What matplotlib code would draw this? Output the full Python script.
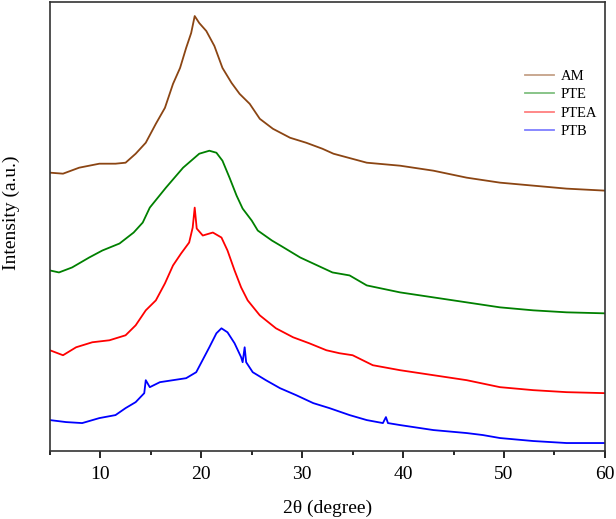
import numpy as np
import matplotlib.pyplot as plt

plt.rcParams['font.family'] = ['Liberation Serif', 'DejaVu Serif']

# 2theta (degree) and offset intensities (a.u.)
am_x = [5, 6.3, 7.9, 9.9, 11.5, 12.5, 13.5, 14.5, 15.5, 16.4, 17.2, 17.9, 18.5, 19.0,
        19.35, 19.8, 20.5, 21.3, 22.1, 23.0, 23.8, 24.8, 25.8, 27.1, 28.8, 30.4, 32.0,
        33.1, 36.4, 39.7, 43.0, 46.3, 49.6, 52.9, 56.2, 60]
am_y = [279, 278, 284, 288, 288, 289, 298, 309, 328, 344, 368, 384, 404, 419,
        436, 429, 421, 406, 384, 369, 358, 348, 333, 323, 314, 309, 303,
        298, 289, 286, 281, 274, 269, 266, 263, 261]

pte_x = [5, 5.9, 7.2, 8.9, 10.2, 11.9, 13.3, 14.2, 14.9, 16.5, 18.2, 19.8, 20.8, 21.5,
         22.1, 22.8, 23.5, 24.1, 25.0, 25.6, 27.0, 28.0, 29.8, 33.0, 34.7, 36.4, 39.7,
         43.0, 46.3, 49.6, 52.9, 56.2, 60]
pte_y = [181, 179, 184, 194, 201, 208, 219, 229, 244, 264, 284, 298, 301, 299,
         291, 274, 256, 243, 231, 221, 211, 205, 194, 179, 176, 166, 159,
         154, 149, 144, 141, 139, 138]

ptea_x = [5, 6.3, 7.6, 9.2, 10.9, 12.5, 13.5, 14.5, 15.5, 16.4, 17.2, 18.0, 18.8, 19.15,
          19.35, 19.55, 20.15, 21.15, 22.0, 22.6, 23.3, 23.95, 24.6, 25.8, 27.4, 29.1,
          30.7, 32.4, 33.7, 35.0, 37.0, 39.7, 43.0, 46.3, 49.6, 52.9, 56.2, 60]
ptea_y = [101, 96, 104, 109, 111, 116, 126, 141, 151, 168, 186, 198, 209, 224,
          244, 223, 216, 219, 214, 201, 181, 164, 151, 136, 123, 114,
          108, 101, 98, 96, 86, 81, 76, 71, 64, 61, 59, 58]

ptb_x = [5, 6.6, 8.2, 9.9, 11.5, 12.5, 13.5, 14.35, 14.5, 14.9, 15.9, 17.2, 18.5, 19.5,
         20.8, 21.5, 22.0, 22.6, 23.3, 23.95, 24.1, 24.3, 24.45, 25.1, 26.4, 27.8, 29.4,
         31.1, 32.7, 34.7, 36.4, 38.0, 38.3, 38.5, 39.7, 43.0, 46.3, 47.9, 49.6, 52.9,
         56.2, 60]
ptb_y = [31, 29, 28, 33, 36, 43, 49, 58, 71, 64, 69, 71, 73, 79,
         104, 118, 123, 119, 108, 94, 89, 104, 89, 79, 71, 63, 56,
         48, 43, 36, 31, 28, 34, 28, 26, 21, 18, 16, 13, 10,
         8, 8]

labels = ['AM', 'PTE', 'PTEA', 'PTB']
colors = ['#8B4513', '#008000', '#FF0000', '#0000FF']

fig = plt.figure(figsize=(6.16, 5.19), dpi=100)
ax = fig.add_axes([0.081, 0.131, 0.901, 0.865])

for xs, ys, lab, c in zip([am_x, pte_x, ptea_x, ptb_x], [am_y, pte_y, ptea_y, ptb_y],
                          labels, colors):
    ax.plot(xs, ys, color=c, lw=1.3, label=lab)

ax.set_xlim(5, 60)
ax.set_ylim(0, 450)
ax.set_xticks([10, 20, 30, 40, 50, 60])
ax.set_xticks([5, 15, 25, 35, 45, 55], minor=True)
ax.set_yticks([])
ax.tick_params(axis='x', which='major', direction='out', length=5, width=1.2,
               labelsize=14, pad=6)
ax.tick_params(axis='x', which='minor', direction='out', length=3, width=1.2)
for s in ax.spines.values():
    s.set_linewidth(1.2)
    s.set_color('#333333')
ax.set_xlabel('2θ (degree)', fontsize=14, labelpad=12)
ax.set_ylabel('Intensity (a.u.)', fontsize=14)
ax.yaxis.set_label_coords(-0.054, 0.53)

leg = ax.legend(loc='upper right', bbox_to_anchor=(1.01, 0.878), frameon=False,
                fontsize=10.5, handlelength=2.0, labelspacing=0.35, handletextpad=0.45)
for h in leg.get_lines():
    h.set_alpha(0.5)

fig.savefig('out.png', dpi=100)
